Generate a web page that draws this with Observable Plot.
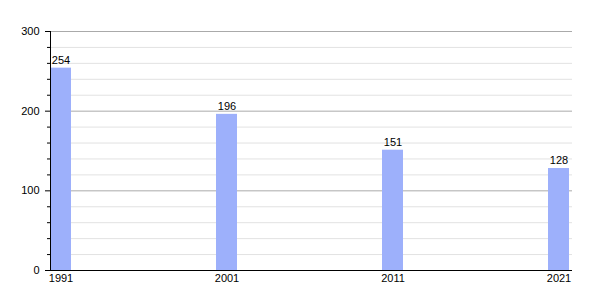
<!DOCTYPE html>
<html><head><meta charset="utf-8">
<script src="https://cdn.jsdelivr.net/npm/d3@7"></script>
<script src="https://cdn.jsdelivr.net/npm/@observablehq/plot@0.6"></script>
<style>body{margin:0;background:#fff;font-family:"Liberation Sans",Arial,sans-serif;}</style>
</head><body><div id="chart"></div>
<script>
const years = ["1991", "2001", "2011", "2021"];
const values = [254, 196, 151, 128];
const majorTicks = [0, 100, 200, 300];
const minorTicks = [20, 40, 60, 80, 120, 140, 160, 180, 220, 240, 260, 280];
const data = years.map((y, i) => ({year: y, value: values[i]}));

const chart = Plot.plot({
  width: 600, height: 300,
  marginLeft: 50, marginRight: 28, marginTop: 31, marginBottom: 30,
  style: {fontFamily: '"Liberation Sans", Arial, sans-serif', fontSize: "11px", color: "#000", background: "#fff"},
  x: {domain: years, paddingInner: 0.874, paddingOuter: 0, align: 0, axis: null, label: null},
  y: {domain: [0, 300], axis: null, label: null},
  marks: [
    Plot.ruleY(minorTicks, {stroke: "#e2e2e2", strokeWidth: 1}),
    Plot.ruleY(majorTicks.filter(v => v > 0), {stroke: "#aaa", strokeWidth: 1}),
    Plot.barY(data, {x: "year", y: "value", fill: "#9db0fb"}),
    Plot.text(data, {x: "year", y: "value", text: d => String(d.value), dy: -8, fill: "#000", fontSize: 11}),
    Plot.axisX({tickSize: 0, tickPadding: 4, fontSize: 11, label: null, color: "#000"}),
    Plot.axisY(majorTicks, {tickSize: 5, tickPadding: 6, fontSize: 11, color: "#000", label: null}),
    Plot.axisY(minorTicks, {tickSize: 3, text: null, color: "#000", label: null}),
    Plot.ruleY([0], {stroke: "#000", strokeWidth: 1}),
    Plot.frame({anchor: "left", stroke: "#000"})
  ]
});
document.getElementById("chart").appendChild(chart);
</script>
</body></html>
